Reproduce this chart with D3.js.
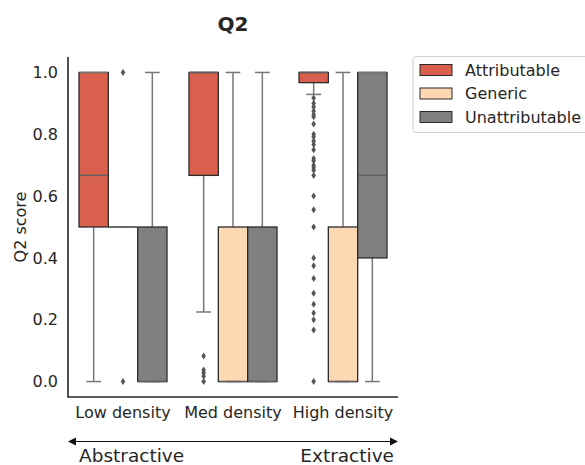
<!DOCTYPE html>
<html>
<head>
<meta charset="utf-8">
<script src="https://cdn.jsdelivr.net/npm/d3@7"></script>
<style>
  body { margin: 0; background: #fff; }
  text { font-family: "DejaVu Sans", sans-serif; fill: #262626; }
</style>
</head>
<body>
<svg id="chart" width="585" height="465"></svg>
<script>
// categories along x, hue groups inside each category
var categories = ['Low density', 'Med density', 'High density']
  , groups = ['Attributable', 'Generic', 'Unattributable']
  , colors = ['#d9604c', '#fdd8b2', '#808080']

// box statistics, rows = categories, columns = groups
var q1 = [[0.5, 0.5, 0], [0.667, 0, 0], [0.967, 0, 0.4]]
  , medians = [[0.667, 0.5, 0], [1, 0, 0], [1, 0, 0.667]]
  , q3 = [[1, 0.5, 0.5], [1, 0.5, 0.5], [1, 0.5, 1]]
  , whiskerLo = [[0, 0.5, 0], [0.225, 0, 0], [0.929, 0, 0]]
  , whiskerHi = [[1, 0.5, 1], [1, 1, 1], [1, 1, 1]]

var outliers = [
  [[], [1, 0], []],
  [[0.083, 0.037, 0.028, 0.017, 0], [], []],
  [[0.917, 0.9, 0.889, 0.875, 0.864, 0.857, 0.833, 0.8, 0.792, 0.778, 0.767, 0.75,
    0.722, 0.714, 0.7, 0.692, 0.684, 0.667, 0.6, 0.556, 0.5, 0.4, 0.375, 0.333,
    0.286, 0.25, 0.222, 0.2, 0.167, 0], [], []]
]

var yTicks = [0, 0.2, 0.4, 0.6, 0.8, 1.0]

var svg = d3.select('#chart')
  , plotLeft = 68, plotRight = 398, plotTop = 57, plotBottom = 397

var x = d3.scaleLinear().domain([-0.5, 2.5]).range([plotLeft, plotRight])
  , y = d3.scaleLinear().domain([-0.05, 1.05]).range([plotBottom, plotTop])
  , hueStep = 0.8 / groups.length
  , boxW = x(hueStep) - x(0)

var boxCenter = function(ci, gi) {
  return x(ci + (gi - 1) * hueStep)
}

// title
svg.append('text')
  .attr('x', x(1)).attr('y', 31)
  .attr('text-anchor', 'middle')
  .style('font-size', '20px').style('font-weight', 'bold')
  .text('Q2')

// y axis
var yAxis = svg.append('g')
  .attr('transform', 'translate(' + plotLeft + ',0)')
  .call(d3.axisLeft(y).tickValues(yTicks).tickFormat(d3.format('.1f')).tickSize(0).tickPadding(10))
yAxis.select('.domain').remove()
yAxis.selectAll('text').style('font-size', '16px').style('fill', '#262626')
  .style('font-family', '"DejaVu Sans", sans-serif')

svg.append('text')
  .attr('transform', 'translate(26,' + y(0.5) + ') rotate(-90)')
  .attr('text-anchor', 'middle')
  .style('font-size', '16px')
  .text('Q2 score')

// x tick labels
svg.selectAll('text.xlabel')
  .data(categories)
  .enter().append('text')
  .attr('class', 'xlabel')
  .attr('x', function(d, i) { return x(i) })
  .attr('y', 418)
  .attr('text-anchor', 'middle')
  .style('font-size', '16px')
  .text(function(d) { return d })

// boxes
var whiskerColor = '#777777'
  , medianColor = '#5f5f5f'
  , edgeColor = '#2b2b2b'

categories.forEach(function(c, ci) {
  groups.forEach(function(g, gi) {
    var cx = boxCenter(ci, gi)
      , g_ = svg.append('g')

    // whiskers
    g_.append('line')
      .attr('x1', cx).attr('x2', cx)
      .attr('y1', y(q1[ci][gi])).attr('y2', y(whiskerLo[ci][gi]))
      .attr('stroke', whiskerColor).attr('stroke-width', 1.5)
    g_.append('line')
      .attr('x1', cx).attr('x2', cx)
      .attr('y1', y(q3[ci][gi])).attr('y2', y(whiskerHi[ci][gi]))
      .attr('stroke', whiskerColor).attr('stroke-width', 1.5)

    // box
    g_.append('rect')
      .attr('x', cx - boxW / 2)
      .attr('width', boxW)
      .attr('y', y(q3[ci][gi]))
      .attr('height', y(q1[ci][gi]) - y(q3[ci][gi]))
      .attr('fill', colors[gi])
      .attr('stroke', edgeColor).attr('stroke-width', 1.3)

    // caps
    var capLo = boxW / 4
      , capHi = whiskerHi[ci][gi] === q3[ci][gi] ? boxW / 2 - 0.7 : boxW / 4
    g_.append('line')
      .attr('x1', cx - capLo).attr('x2', cx + capLo)
      .attr('y1', y(whiskerLo[ci][gi])).attr('y2', y(whiskerLo[ci][gi]))
      .attr('stroke', whiskerColor).attr('stroke-width', 1.5)
    g_.append('line')
      .attr('x1', cx - capHi).attr('x2', cx + capHi)
      .attr('y1', y(whiskerHi[ci][gi])).attr('y2', y(whiskerHi[ci][gi]))
      .attr('stroke', whiskerColor).attr('stroke-width', 1.5)

    // median
    g_.append('line')
      .attr('x1', cx - boxW / 2 + 0.7).attr('x2', cx + boxW / 2 - 0.7)
      .attr('y1', y(medians[ci][gi])).attr('y2', y(medians[ci][gi]))
      .attr('stroke', medianColor).attr('stroke-width', 1.5)

    // outliers
    g_.selectAll('path')
      .data(outliers[ci][gi])
      .enter().append('path')
      .attr('d', 'M0,-3.5L2.3,0L0,3.5L-2.3,0Z')
      .attr('transform', function(d) { return 'translate(' + cx + ',' + y(d) + ')' })
      .attr('fill', '#555555')
  })
})

// spines
svg.append('line')
  .attr('x1', plotLeft).attr('x2', plotLeft).attr('y1', plotTop).attr('y2', plotBottom)
  .attr('stroke', '#262626').attr('stroke-width', 1.6)
svg.append('line')
  .attr('x1', plotLeft - 0.8).attr('x2', plotRight).attr('y1', plotBottom).attr('y2', plotBottom)
  .attr('stroke', '#262626').attr('stroke-width', 1.6)

// legend
var legend = svg.append('g')
legend.append('rect')
  .attr('x', 413).attr('y', 56.5).attr('width', 180).attr('height', 76)
  .attr('rx', 3).attr('fill', '#fff').attr('stroke', '#d0d0d0')
groups.forEach(function(g, gi) {
  var ly = 70 + gi * 23.5
  legend.append('rect')
    .attr('x', 420).attr('y', ly - 5.5).attr('width', 32).attr('height', 11)
    .attr('fill', colors[gi]).attr('stroke', edgeColor).attr('stroke-width', 1)
  legend.append('text')
    .attr('x', 465).attr('y', ly).attr('dy', '0.36em')
    .style('font-size', '16px')
    .text(g)
})

// abstractive / extractive arrow
var ay = 441.5
svg.append('line')
  .attr('x1', plotLeft + 6).attr('x2', plotRight - 6).attr('y1', ay).attr('y2', ay)
  .attr('stroke', '#111').attr('stroke-width', 1.2)
svg.append('path')
  .attr('d', 'M' + plotLeft + ',' + ay + 'l8,-4v8z')
  .attr('fill', '#111')
svg.append('path')
  .attr('d', 'M' + plotRight + ',' + ay + 'l-8,-4v8z')
  .attr('fill', '#111')
svg.append('text')
  .attr('x', 79).attr('y', 461.5)
  .style('font-size', '18.5px')
  .text('Abstractive')
svg.append('text')
  .attr('x', 394).attr('y', 461.5)
  .attr('text-anchor', 'end')
  .style('font-size', '18.5px')
  .text('Extractive')
</script>
</body>
</html>
